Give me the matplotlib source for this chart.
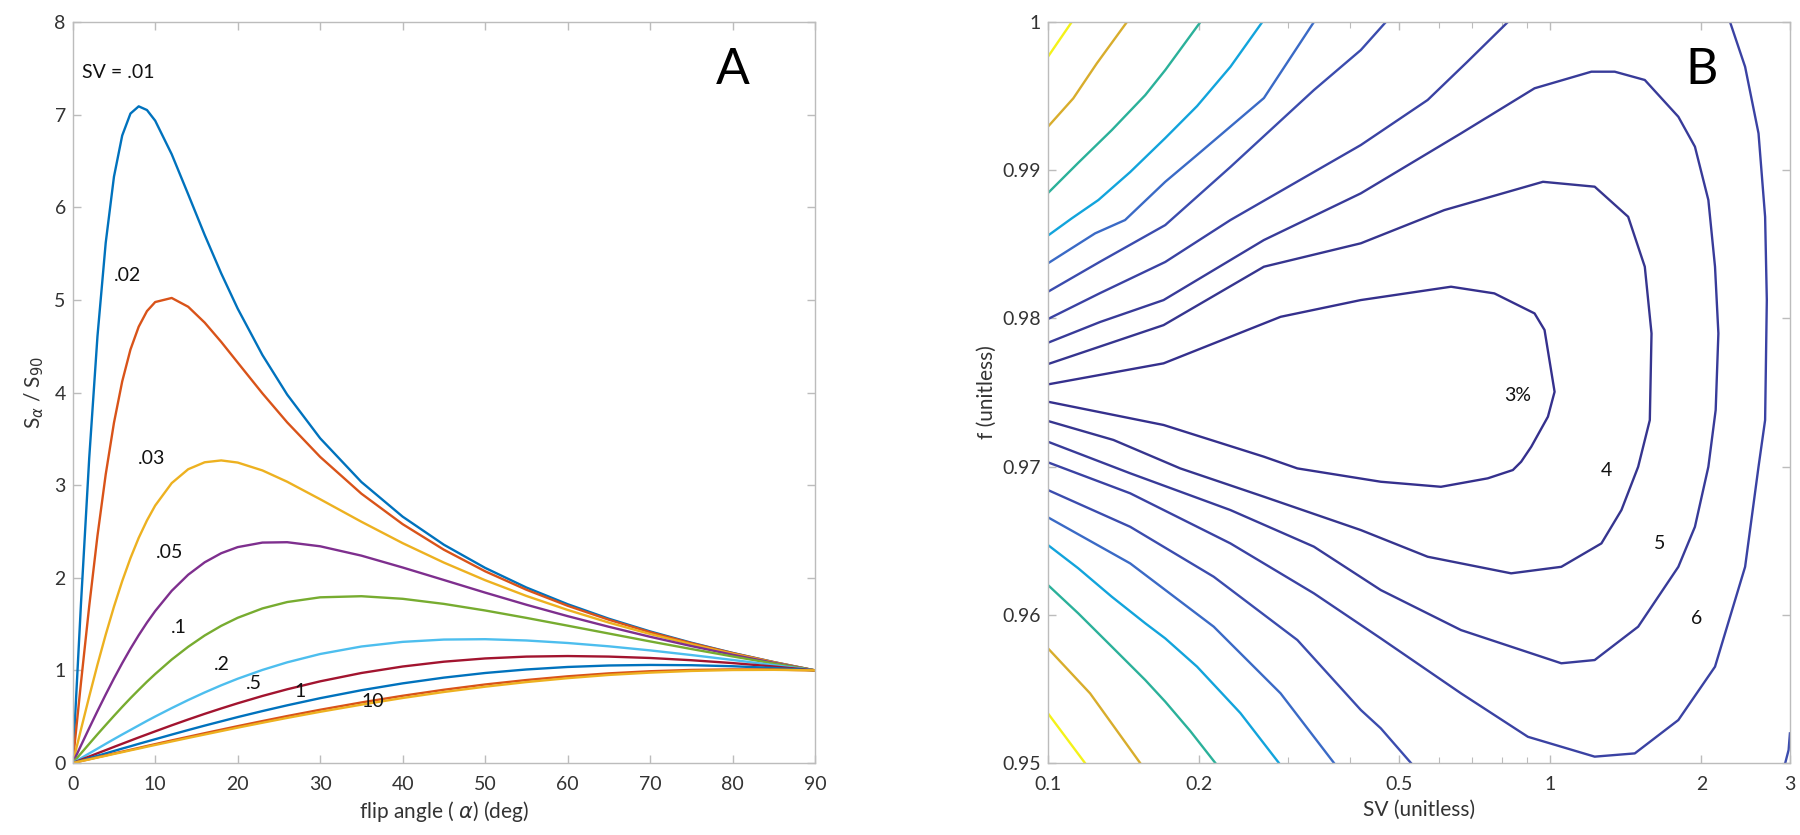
import numpy as np
import matplotlib
matplotlib.use('Agg')
import matplotlib.pyplot as plt

plt.rcParams['font.family'] = ['Lato', 'DejaVu Sans']

# ---- Panel A: S_alpha / S_90 vs flip angle, one curve per SV ----
flip_angle = [0, 1, 2, 3, 4, 5, 6, 7, 8, 9, 10, 12, 14, 16, 18, 20, 23, 26, 30,
              35, 40, 45, 50, 55, 60, 65, 70, 75, 80, 85, 90]

sv_01 = [0, 1.719, 3.292, 4.607, 5.617, 6.330, 6.775, 7.012, 7.090, 7.050, 6.935, 6.573, 6.140,
         5.701, 5.287, 4.906, 4.405, 3.978, 3.506, 3.034, 2.660, 2.357, 2.107, 1.895, 1.715,
         1.558, 1.421, 1.299, 1.189, 1.090, 1.0]
sv_02 = [0, 0.866, 1.694, 2.453, 3.116, 3.673, 4.120, 4.464, 4.711, 4.879, 4.977, 5.021, 4.926,
         4.755, 4.547, 4.324, 3.991, 3.678, 3.305, 2.908, 2.579, 2.303, 2.070, 1.871, 1.698,
         1.547, 1.413, 1.294, 1.187, 1.089, 1.0]
sv_03 = [0, 0.362, 0.718, 1.062, 1.386, 1.688, 1.964, 2.212, 2.431, 2.619, 2.780, 3.022, 3.172,
         3.247, 3.267, 3.244, 3.159, 3.037, 2.848, 2.605, 2.374, 2.164, 1.974, 1.804, 1.653,
         1.516, 1.393, 1.282, 1.180, 1.086, 1.0]
sv_05 = [0, 0.189, 0.377, 0.561, 0.740, 0.913, 1.078, 1.234, 1.380, 1.516, 1.641, 1.859, 2.033,
         2.167, 2.265, 2.331, 2.380, 2.384, 2.340, 2.239, 2.111, 1.976, 1.840, 1.709, 1.586,
         1.471, 1.363, 1.263, 1.169, 1.082, 1.0]
sv_1 = [0, 0.104, 0.207, 0.310, 0.410, 0.509, 0.606, 0.700, 0.790, 0.878, 0.961, 1.117, 1.255,
        1.377, 1.481, 1.568, 1.669, 1.738, 1.789, 1.801, 1.773, 1.718, 1.647, 1.567, 1.483,
        1.398, 1.313, 1.231, 1.151, 1.074, 1.0]
sv_2 = [0, 0.052, 0.104, 0.155, 0.207, 0.258, 0.308, 0.357, 0.406, 0.455, 0.502, 0.593, 0.680,
        0.762, 0.839, 0.910, 1.005, 1.087, 1.177, 1.258, 1.308, 1.333, 1.337, 1.323, 1.296,
        1.260, 1.216, 1.166, 1.113, 1.057, 1.0]
sv_5 = [0, 0.035, 0.070, 0.105, 0.139, 0.174, 0.208, 0.242, 0.276, 0.309, 0.342, 0.407, 0.470,
        0.531, 0.589, 0.645, 0.724, 0.796, 0.882, 0.972, 1.042, 1.094, 1.129, 1.149, 1.155,
        1.149, 1.134, 1.110, 1.079, 1.042, 1.0]
sv1 = [0, 0.026, 0.052, 0.078, 0.104, 0.130, 0.156, 0.181, 0.207, 0.232, 0.257, 0.307, 0.356,
       0.404, 0.450, 0.496, 0.561, 0.623, 0.700, 0.786, 0.860, 0.922, 0.972, 1.010, 1.037,
       1.053, 1.059, 1.056, 1.045, 1.026, 1.0]
sv5 = [0, 0.021, 0.041, 0.062, 0.082, 0.103, 0.123, 0.143, 0.163, 0.184, 0.204, 0.244, 0.283,
       0.322, 0.360, 0.398, 0.453, 0.507, 0.575, 0.654, 0.726, 0.791, 0.848, 0.896, 0.936,
       0.968, 0.991, 1.005, 1.011, 1.009, 1.0]
sv10 = [0, 0.020, 0.039, 0.059, 0.078, 0.098, 0.117, 0.137, 0.156, 0.176, 0.195, 0.233, 0.271,
        0.308, 0.345, 0.382, 0.435, 0.487, 0.553, 0.630, 0.702, 0.767, 0.824, 0.874, 0.916,
        0.951, 0.976, 0.994, 1.004, 1.006, 1.0]

curves_a = [sv_01, sv_02, sv_03, sv_05, sv_1, sv_2, sv_5, sv1, sv5, sv10]
colors_a = ['#0072BD', '#D95319', '#EDB120', '#7E2F8E', '#77AC30',
            '#4DBEEE', '#A2142F', '#0072BD', '#D95319', '#EDB120']

labels_a = ['SV = .01', '.02', '.03', '.05', '.1', '.2', '.5', '1', '10']
label_x = [1.1, 6.7, 9.6, 11.8, 12.9, 18.1, 22.0, 27.6, 36.4]
label_y = [7.46, 5.26, 3.29, 2.27, 1.46, 1.06, 0.86, 0.77, 0.66]

# ---- Panel B: contour lines of error (%) over SV and f ----
# each contour piece: (SV values, f values)
c3 = ([0.1, 0.1699, 0.2905, 0.4196, 0.6345, 0.7739, 0.9305, 0.9741, 1.0200, 0.9894, 0.9165,
       0.8751, 0.8424, 0.7508, 0.6059, 0.4599, 0.3137, 0.2691, 0.1699, 0.1],
      [0.97555, 0.97697, 0.98011, 0.98124, 0.98214, 0.98169, 0.98034, 0.97922, 0.97505, 0.97337,
       0.97134, 0.97033, 0.96977, 0.96921, 0.96864, 0.96898, 0.96988, 0.97067, 0.97281, 0.97438])
c4 = ([0.1, 0.1699, 0.2691, 0.4196, 0.6152, 0.967, 1.2259, 1.4292, 1.5424, 1.5907, 1.5783,
       1.4962, 1.3858, 1.2643, 1.0520, 0.8358, 0.5700, 0.4196, 0.2691, 0.1834, 0.1350, 0.1],
      [0.97692, 0.97955, 0.98349, 0.98507, 0.98731, 0.98922, 0.98889, 0.98686, 0.98349, 0.97899,
       0.97314, 0.96999, 0.96707, 0.96482, 0.96324, 0.96280, 0.96392, 0.96572, 0.96797, 0.96988,
       0.97180, 0.97308])
c5 = ([0.1, 0.1270, 0.1699, 0.2691, 0.4196, 0.6643, 0.9305, 1.2074, 1.3437, 1.5424, 1.7988,
       1.9409, 2.0642, 2.1281, 2.1612, 2.1346, 2.0642, 1.9409, 1.7988, 1.4962, 1.2259, 1.0520,
       0.6643, 0.4599, 0.3384, 0.2308, 0.1458, 0.1],
      [0.97836, 0.97976, 0.98124, 0.98529, 0.98844, 0.99249, 0.99553, 0.99665, 0.99665, 0.99609,
       0.99361, 0.99159, 0.98799, 0.98349, 0.97899, 0.97382, 0.96999, 0.96594, 0.96324, 0.95920,
       0.95695, 0.95673, 0.95897, 0.96167, 0.96460, 0.96707, 0.96955, 0.97168])
c6_top = ([0.1, 0.1270, 0.1712, 0.2308, 0.3384, 0.4196, 0.5700, 0.6829, 0.8232],
          [0.97996, 0.98171, 0.98381, 0.98664, 0.98988, 0.99170, 0.99474, 0.99730, 1.0])
c6_right = ([2.2800, 2.4429, 2.5978, 2.6775, 2.6985, 2.6775, 2.5978, 2.4429, 2.1281, 1.7988,
             1.4734, 1.2259, 0.9026, 0.6643, 0.4599, 0.3384, 0.2308, 0.1458, 0.1],
            [1.0, 0.99698, 0.99249, 0.98686, 0.98124, 0.97314, 0.96999, 0.96324, 0.95650, 0.95290,
             0.95065, 0.95043, 0.95177, 0.95470, 0.95841, 0.96145, 0.96482, 0.96820, 0.97029])
c7_top = ([0.1, 0.1270, 0.1712, 0.2308, 0.3384, 0.4196, 0.4706],
          [0.98180, 0.98383, 0.98630, 0.99022, 0.99541, 0.99811, 1.0])
c7_bot = ([0.1, 0.1458, 0.2138, 0.3137, 0.4196, 0.4599, 0.5281],
          [0.96842, 0.96594, 0.96257, 0.95830, 0.95358, 0.95234, 0.95])
c7_corner = ([2.936, 2.982, 3.0], [0.95, 0.95088, 0.95200])
c8_top = ([0.1, 0.1241, 0.1424, 0.1712, 0.1981, 0.2691, 0.3384],
          [0.98372, 0.98574, 0.98664, 0.98922, 0.99103, 0.99487, 1.0])
c8_bot = ([0.1, 0.1458, 0.2138, 0.2905, 0.3711],
          [0.96658, 0.96347, 0.95920, 0.95470, 0.95])
c9_top = ([0.1, 0.1115, 0.1260, 0.1458, 0.1712, 0.1981, 0.2308, 0.2671],
          [0.98559, 0.98675, 0.98799, 0.98988, 0.99217, 0.99433, 0.99698, 1.0])
c9_bot = ([0.1, 0.1149, 0.1340, 0.1562, 0.1712, 0.1981, 0.2416, 0.2883],
          [0.96471, 0.96314, 0.96122, 0.95943, 0.95841, 0.95650, 0.95337, 0.95])
c10_top = ([0.1, 0.1148, 0.1340, 0.1562, 0.1712, 0.2011],
           [0.98846, 0.99049, 0.99271, 0.99507, 0.99676, 1.0])
c10_bot = ([0.1, 0.1149, 0.1340, 0.1562, 0.1712, 0.1920, 0.2154],
           [0.96201, 0.96010, 0.95785, 0.95560, 0.95414, 0.95216, 0.95])
c11_top = ([0.1, 0.1123, 0.1251, 0.1436], [0.99294, 0.99485, 0.99721, 1.0])
c11_bot = ([0.1, 0.1213, 0.1526], [0.95774, 0.95470, 0.95])
c12_top = ([0.1, 0.1115], [0.99766, 1.0])
c12_bot = ([0.1, 0.1185], [0.95335, 0.95])

contour_pieces = [c3, c4, c5, c6_top, c6_right, c7_top, c7_bot, c7_corner, c8_top, c8_bot,
                  c9_top, c9_bot, c10_top, c10_bot, c11_top, c11_bot, c12_top, c12_bot]
contour_colors = ['#35308d', '#36358f', '#383b99', '#3a42a3', '#3a42a3', '#3b4cae', '#3b4cae',
                  '#3b4cae', '#3a6ac6', '#3a6ac6', '#12a4dc', '#12a4dc', '#2bb19a', '#2bb19a',
                  '#d8ad2c', '#d8ad2c', '#f4f219', '#f4f219']

level_text = ['3%', '4', '5', '6']
level_sv = [0.863, 1.293, 1.651, 1.956]
level_f = [0.97483, 0.96977, 0.96484, 0.95978]

sv_ticks = [0.1, 0.2, 0.5, 1, 2, 3]
sv_minor = [0.3, 0.4, 0.6, 0.7, 0.8, 0.9]
f_ticks = [0.95, 0.96, 0.97, 0.98, 0.99, 1.0]

AX_GRAY = '#bcbcbc'
TXT = '#333333'

fig = plt.figure(figsize=(18, 8.35), dpi=100)
axA = fig.add_axes([0.0404, 0.0862, 0.4124, 0.8874])
axB = fig.add_axes([0.5822, 0.0862, 0.4122, 0.8874])

for ax in (axA, axB):
    for sp in ax.spines.values():
        sp.set_color(AX_GRAY)
        sp.set_linewidth(1.0)
    ax.tick_params(which='both', direction='in', top=True, right=True, color=AX_GRAY,
                   labelcolor=TXT, labelsize=14)
    ax.tick_params(which='major', length=6, width=1.0)
    ax.tick_params(which='minor', length=4, width=0.8)
    ax.tick_params(axis='x', pad=9)
    ax.tick_params(axis='y', pad=5)

# Panel A
for vals, c in zip(curves_a, colors_a):
    axA.plot(flip_angle, vals, color=c, linewidth=1.7)
for txt, x, y in zip(labels_a, label_x, label_y):
    axA.text(x, y, txt, fontsize=14, color='#111111',
             ha='left' if txt.startswith('SV') else 'center', va='center')
axA.text(80, 7.48, 'A', fontsize=36, ha='center', va='center', color='black')
axA.set_xlim(0, 90)
axA.set_ylim(0, 8)
axA.set_xticks(range(0, 91, 10))
axA.set_yticks(range(0, 9))
axA.set_xlabel(r'flip angle ( $\alpha$) (deg)', fontsize=15, color=TXT, labelpad=5)
axA.set_ylabel(r'S$_\alpha$ / S$_{90}$', fontsize=15, color=TXT, labelpad=6)

# Panel B
for (xs, ys), c in zip(contour_pieces, contour_colors):
    axB.plot(xs, ys, color=c, linewidth=1.7)
for txt, x, y in zip(level_text, level_sv, level_f):
    axB.text(x, y, txt, fontsize=14, color='#111111', ha='center', va='center')
axB.text(2.0, 0.99676, 'B', fontsize=36, ha='center', va='center', color='black')
axB.set_xscale('log')
axB.set_xlim(0.1, 3)
axB.set_ylim(0.95, 1.0)
axB.set_xticks(sv_ticks)
axB.set_xticklabels(['0.1', '0.2', '0.5', '1', '2', '3'])
axB.set_xticks(sv_minor, minor=True)
axB.set_xticklabels([], minor=True)
axB.set_yticks(f_ticks)
axB.set_yticklabels(['0.95', '0.96', '0.97', '0.98', '0.99', '1'])
axB.set_xlabel('SV (unitless)', fontsize=15, color=TXT, labelpad=5)
axB.set_ylabel('f (unitless)', fontsize=15, color=TXT, labelpad=4)

fig.savefig('out.png', dpi=100)
